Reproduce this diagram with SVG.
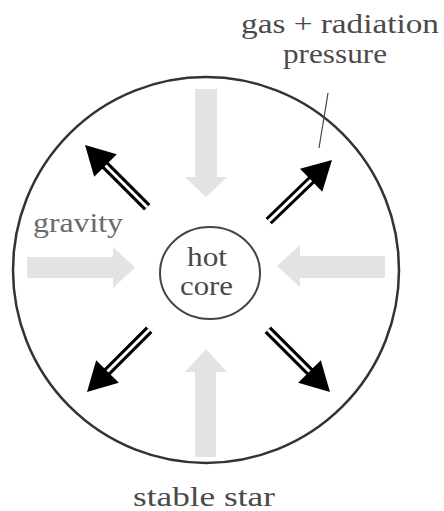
<svg xmlns="http://www.w3.org/2000/svg" width="444" height="511" viewBox="0 0 444 511">
<style>
.lbl{font-family:"Liberation Serif","Times New Roman",serif;font-size:27px;fill:#4a4a4a}
.grav{fill:#e2e3e3}
.shaft{stroke:#000;stroke-width:9;fill:none}
.gap{stroke:#fff;stroke-width:3;fill:none}
</style>
<defs>
<g id="bigarrow">
<line class="shaft" x1="-88" y1="0" x2="-24" y2="0"/>
<line class="gap" x1="-88" y1="0" x2="-24" y2="0"/>
<polygon points="0,0 -29,-16 -29,16" fill="#000"/>
</g>
</defs>
<rect width="444" height="511" fill="#fff"/>
<g id="star">
<circle cx="206" cy="270" r="193" fill="none" stroke="#333" stroke-width="2.5"/>
</g>
<g id="gravity-arrows">
<polygon class="grav" points="195,89 217,89 217,177 227,177 206,197 185,177 195,177"/>
<polygon class="grav" points="27,257 113,257 113,247 135,267.5 113,288 113,278 27,278"/>
<polygon class="grav" points="385,256 300,256 300,245 277,266 300,287 300,278 385,278"/>
<polygon class="grav" points="195,457 195,372 185,372 206,349 227,372 216,372 216,457"/>
</g>
<g id="pressure-arrows">
<use href="#bigarrow" transform="translate(85,145) rotate(-135)"/>
<use href="#bigarrow" transform="translate(332,160) rotate(-44)"/>
<use href="#bigarrow" transform="translate(87,392) rotate(135)"/>
<use href="#bigarrow" transform="translate(330,392) rotate(45)"/>
</g>
<g id="core">
<ellipse cx="210" cy="273" rx="50" ry="46" fill="#fff" stroke="#444" stroke-width="2"/>
<text class="lbl" x="187" y="266" textLength="40" lengthAdjust="spacingAndGlyphs">hot</text>
<text class="lbl" x="180" y="295" textLength="53" lengthAdjust="spacingAndGlyphs">core</text>
</g>
<g id="connectors">
<line x1="328" y1="93" x2="319" y2="148" stroke="#444" stroke-width="1.2"/>
</g>
<g id="labels">
<text class="lbl" x="241" y="33" textLength="198" lengthAdjust="spacingAndGlyphs">gas + radiation</text>
<text class="lbl" x="283" y="63" textLength="104" lengthAdjust="spacingAndGlyphs">pressure</text>
<text class="lbl" x="33" y="232" textLength="90" lengthAdjust="spacingAndGlyphs" style="fill:#6a6a6a">gravity</text>
<text class="lbl" x="133" y="506" textLength="142" lengthAdjust="spacingAndGlyphs">stable star</text>
</g>
</svg>
